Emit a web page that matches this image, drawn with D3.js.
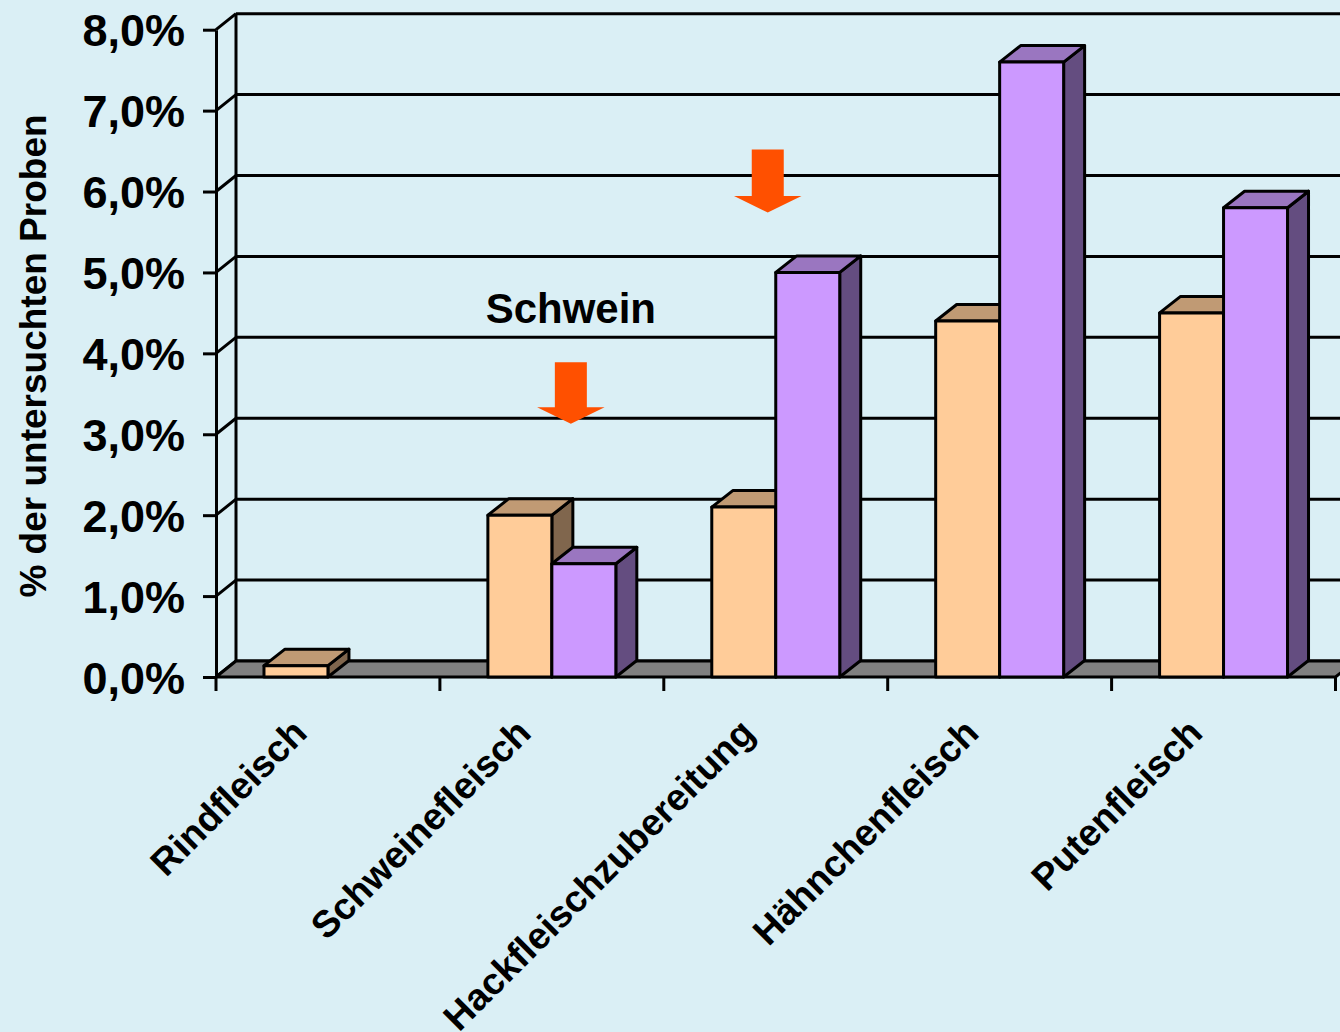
<!DOCTYPE html>
<html lang="de">
<head>
<meta charset="UTF-8">
<title>Anteil positiver Proben</title>
<style>
  * { margin: 0; padding: 0; box-sizing: border-box; }
  body { background: #daeff5; overflow: hidden; }
  svg { display: block; font-family: "Liberation Sans", Arial, sans-serif; font-weight: bold; }
</style>
</head>
<body>
<svg id="chart" width="1340" height="1032"></svg>
<script src="https://cdn.jsdelivr.net/npm/d3@7"></script>
<script>
  // data
  const categories = ["Rindfleisch", "Schweinefleisch", "Hackfleischzubereitung", "Hähnchenfleisch", "Putenfleisch"];
  const seriesNames = ["A", "B"];
  const valuesA = [0.0014, 0.020, 0.021, 0.044, 0.045];
  const valuesB = [0, 0.014, 0.050, 0.076, 0.058];
  const yTicks = [0, 0.01, 0.02, 0.03, 0.04, 0.05, 0.06, 0.07, 0.08];
  const yTitle = "% der untersuchten Proben";
  const note = "Schwein";
  // arrows: category, offset from band centre (px), top and tip value
  const arrows = [
    { cat: "Schweinefleisch", off: 19, top: 0.0389, tip: 0.0313 },
    { cat: "Hackfleischzubereitung", off: -8, top: 0.0652, tip: 0.0574 }
  ];

  const W = 1340, H = 1032;
  const depthX = 20, depthY = 16;   // wall depth
  const barDX = 21, barDY = 16.5;   // bar depth
  const faces = {
    A: { front: "#ffcc99", top: "#c09a74", side: "#80664d" },
    B: { front: "#cc99ff", top: "#9a76c0", side: "#644d80" }
  };
  const lw = 3;

  const de = d3.formatLocale({ decimal: ",", thousands: ".", grouping: [3], currency: ["", " €"] });
  const fmt = de.format(".1%");

  const svg = d3.select("#chart");
  svg.append("rect").attr("width", W).attr("height", H).attr("fill", "#daeff5");

  const x = d3.scaleBand().domain(categories).range([216, 1335.5]).paddingInner(0).paddingOuter(0);
  const xs = d3.scaleBand().domain(seriesNames).range([0, x.bandwidth()]).paddingInner(0).paddingOuter(0.75);
  const y = d3.scaleLinear().domain([0, 0.08]).range([677, 29.7]);

  const x0 = x.range()[0], x1 = x.range()[1];

  // back wall gridlines + left wall
  const walls = svg.append("g").attr("stroke", "#000").attr("stroke-width", lw).attr("fill", "none");
  walls.selectAll("line.grid").data(yTicks).join("line")
    .attr("class", "grid")
    .attr("x1", x0 + depthX).attr("x2", W + 30)
    .attr("y1", d => y(d) - depthY).attr("y2", d => y(d) - depthY);
  walls.selectAll("line.diag").data(yTicks).join("line")
    .attr("class", "diag")
    .attr("x1", x0).attr("y1", d => y(d))
    .attr("x2", x0 + depthX).attr("y2", d => y(d) - depthY);
  walls.append("line")
    .attr("x1", x0 + depthX).attr("x2", x0 + depthX)
    .attr("y1", y(0) - depthY).attr("y2", y(0.08) - depthY);

  // floor
  svg.append("path")
    .attr("d", `M${x0},${y(0)}L${x1},${y(0)}L${x1 + depthX},${y(0) - depthY}L${x0 + depthX},${y(0) - depthY}Z`)
    .attr("fill", "#808080").attr("stroke", "#000").attr("stroke-width", lw).attr("stroke-linejoin", "round");

  // bars
  const bars = [];
  categories.forEach((c, i) => {
    bars.push({ cat: c, s: "A", v: valuesA[i] });
    bars.push({ cat: c, s: "B", v: valuesB[i] });
  });
  const bg = svg.append("g").attr("stroke", "#000").attr("stroke-width", lw).attr("stroke-linejoin", "round");
  bars.filter(d => d.v > 0).forEach(d => {
    const bx = x(d.cat) + xs(d.s), w = xs.bandwidth();
    const yt = y(d.v), yb = y(0);
    const g = bg.append("g");
    g.append("path").attr("fill", faces[d.s].side)
      .attr("d", `M${bx + w},${yt}L${bx + w + barDX},${yt - barDY}L${bx + w + barDX},${yb - barDY}L${bx + w},${yb}Z`);
    g.append("path").attr("fill", faces[d.s].top)
      .attr("d", `M${bx},${yt}L${bx + barDX},${yt - barDY}L${bx + w + barDX},${yt - barDY}L${bx + w},${yt}Z`);
    g.append("rect").attr("fill", faces[d.s].front)
      .attr("x", bx).attr("y", yt).attr("width", w).attr("height", yb - yt);
  });

  // y axis on the front plane
  const yAxis = svg.append("g").attr("transform", `translate(${x0},0)`)
    .call(d3.axisLeft(y).tickValues(yTicks).tickFormat(fmt).tickSize(13).tickSizeOuter(0).tickPadding(18));
  yAxis.selectAll("path, line").attr("stroke", "#000").attr("stroke-width", lw);
  yAxis.selectAll("text").attr("font-size", 45).attr("font-weight", "bold").attr("fill", "#000")
    .attr("font-family", "Liberation Sans, Arial, sans-serif").attr("dy", "0.36em");

  // category ticks
  const xt = categories.map(c => x(c)).concat([x1]);
  svg.append("g").selectAll("line").data(xt).join("line")
    .attr("x1", d => d).attr("x2", d => d).attr("y1", y(0)).attr("y2", y(0) + 14)
    .attr("stroke", "#000").attr("stroke-width", lw);

  // category labels, rotated
  svg.append("g").selectAll("text").data(categories).join("text")
    .attr("transform", d => `translate(${x(d) + x.bandwidth() / 2 - 19},${735}) rotate(-45)`)
    .attr("text-anchor", "end")
    .attr("font-size", 37.5).attr("fill", "#000")
    .text(d => d);

  // y title
  svg.append("text")
    .attr("transform", "translate(46,356) rotate(-90)")
    .attr("text-anchor", "middle").attr("font-size", 37).attr("fill", "#000")
    .text(yTitle);

  // arrows
  const shaftW = 32, headW = 67.5, headH = 16.6;
  arrows.forEach(a => {
    const cx = x(a.cat) + x.bandwidth() / 2 + a.off;
    const yt = y(a.top), yp = y(a.tip), yh = yp - headH;
    svg.append("path").attr("fill", "#ff5000")
      .attr("d", `M${cx - shaftW / 2},${yt}L${cx + shaftW / 2},${yt}L${cx + shaftW / 2},${yh}L${cx + headW / 2},${yh}L${cx},${yp}L${cx - headW / 2},${yh}L${cx - shaftW / 2},${yh}Z`);
  });

  // "Schwein" note above the first arrow
  const a0 = arrows[0];
  svg.append("text")
    .attr("x", x(a0.cat) + x.bandwidth() / 2 + a0.off).attr("y", y(0.0437))
    .attr("text-anchor", "middle").attr("font-size", 42).attr("fill", "#000")
    .text(note);
</script>
</body>
</html>
